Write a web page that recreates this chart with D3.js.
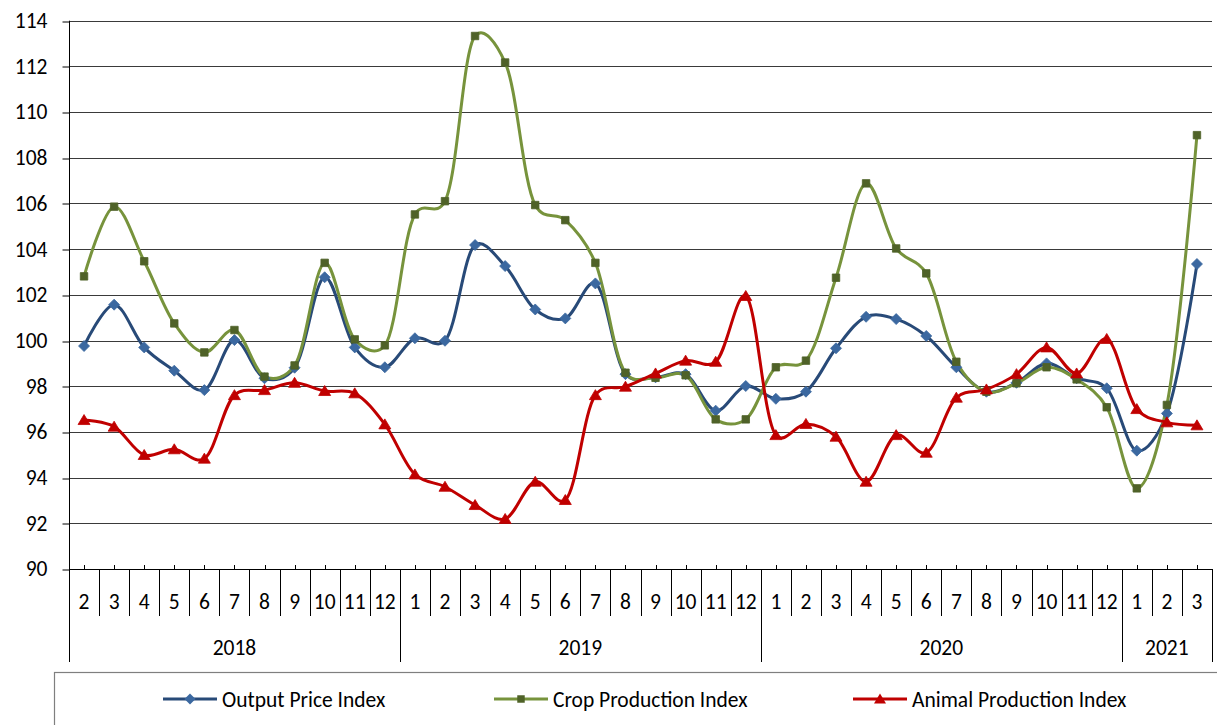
<!DOCTYPE html>
<html>
<head>
<meta charset="utf-8">
<script src="https://cdn.jsdelivr.net/npm/d3@7"></script>
<style>
  body { margin: 0; background: #fff; }
  svg { display: block; font-family: Carlito, Calibri, Lato, "Open Sans", sans-serif; }
</style>
</head>
<body>
<div class="chart"></div>
<script>
// categories: month numbers grouped by year
const yearLabels = ["2018", "2019", "2020", "2021"];
const monthsByYear = [
  [2, 3, 4, 5, 6, 7, 8, 9, 10, 11, 12],
  [1, 2, 3, 4, 5, 6, 7, 8, 9, 10, 11, 12],
  [1, 2, 3, 4, 5, 6, 7, 8, 9, 10, 11, 12],
  [1, 2, 3]
];

// series values
const outputPrice = [
  99.76, 101.57, 99.70, 98.68, 97.83, 100.02, 98.35, 98.81, 102.77, 99.70, 98.83,
  100.10, 99.99, 104.18, 103.26, 101.36, 100.97, 102.50, 98.53, 98.39, 98.53, 96.93, 98.01,
  97.45, 97.76, 99.66, 101.04, 100.94, 100.20, 98.83, 97.76, 98.15, 99.00, 98.35, 97.91,
  95.18, 96.81, 103.35
];
const cropProduction = [
  102.81, 105.86, 103.47, 100.75, 99.48, 100.46, 98.42, 98.91, 103.40, 100.05, 99.79,
  105.52, 106.10, 113.33, 112.17, 105.93, 105.27, 103.40, 98.59, 98.37, 98.48, 96.55, 96.55,
  98.83, 99.12, 102.75, 106.88, 104.03, 102.94, 99.07, 97.76, 98.13, 98.83, 98.30, 97.08,
  93.53, 97.18, 108.99
];
const animalProduction = [
  96.52, 96.23, 94.99, 95.24, 94.83, 97.61, 97.83, 98.15, 97.79, 97.69, 96.33,
  94.14, 93.60, 92.80, 92.19, 93.82, 93.02, 97.61, 97.98, 98.56, 99.12, 99.07, 101.95,
  95.86, 96.35, 95.79, 93.82, 95.86, 95.09, 97.50, 97.86, 98.53, 99.70, 98.56, 100.07,
  97.00, 96.42, 96.29
];
const yTicks = [90, 92, 94, 96, 98, 100, 102, 104, 106, 108, 110, 112, 114];

const series = [
  { name: "Output Price Index", values: outputPrice, line: "#284a78", marker: "#3b68a0", shape: "diamond" },
  { name: "Crop Production Index", values: cropProduction, line: "#77933c", marker: "#4f6228", shape: "square" },
  { name: "Animal Production Index", values: animalProduction, line: "#c00000", marker: "#c00000", shape: "triangle" }
];

const width = 1217;
const height = 725;
const plotLeft = 69, plotRight = 1212, plotTop = 20.7, plotBottom = 569;
const fontSize = 21.5;

// flatten categories
const cats = [];
monthsByYear.forEach((months, yi) => {
  months.forEach((m) => cats.push({ year: yi, month: m }));
});

const svg = d3.select(".chart").append("svg")
  .attr("width", width)
  .attr("height", height);

const x = d3.scaleBand().domain(d3.range(cats.length)).range([plotLeft, plotRight]).padding(0);
const y = d3.scaleLinear().domain([90, 114]).range([plotBottom, plotTop]);
const cx = (i) => x(i) + x.bandwidth() / 2;

// gridlines
svg.append("g")
  .selectAll("line")
  .data(yTicks.slice(1))
  .join("line")
  .attr("x1", plotLeft).attr("x2", plotRight)
  .attr("y1", (d) => Math.round(y(d)) + 0.5).attr("y2", (d) => Math.round(y(d)) + 0.5)
  .attr("stroke", "#3a3a3a").attr("stroke-width", 1);

// y axis
const yAxis = svg.append("g")
  .attr("transform", `translate(${plotLeft + 0.5},0)`)
  .call(d3.axisLeft(y).tickValues(yTicks).tickSize(7).tickPadding(15).tickSizeOuter(0));
yAxis.select(".domain").remove();
yAxis.selectAll(".tick line").attr("stroke", "#000").attr("transform", (d) => `translate(0,${Math.round(y(d)) + 0.5 - y(d)})`);
yAxis.selectAll("text").attr("font-size", fontSize).attr("fill", "#000");
yAxis.attr("font-family", null);

// axis lines
svg.append("line")
  .attr("x1", plotLeft + 0.5).attr("x2", plotLeft + 0.5)
  .attr("y1", plotTop).attr("y2", 662)
  .attr("stroke", "#000");
svg.append("line")
  .attr("x1", plotLeft).attr("x2", plotRight)
  .attr("y1", plotBottom + 0.5).attr("y2", plotBottom + 0.5)
  .attr("stroke", "#000");

// small ticks at category centres
svg.append("g")
  .selectAll("line")
  .data(cats)
  .join("line")
  .attr("x1", (d, i) => Math.round(cx(i)) + 0.5).attr("x2", (d, i) => Math.round(cx(i)) + 0.5)
  .attr("y1", plotBottom - 4).attr("y2", plotBottom)
  .attr("stroke", "#000");

// separators between categories; year boundaries reach further down
const yearStart = [];
let acc = 0;
monthsByYear.forEach((months) => { yearStart.push(acc); acc += months.length; });
const boundaries = d3.range(1, cats.length + 1);
svg.append("g")
  .selectAll("line")
  .data(boundaries)
  .join("line")
  .attr("x1", (b) => Math.round(x(b - 1) + x.bandwidth()) + 0.5)
  .attr("x2", (b) => Math.round(x(b - 1) + x.bandwidth()) + 0.5)
  .attr("y1", plotBottom)
  .attr("y2", (b) => (yearStart.includes(b) || b === cats.length ? 662 : 616))
  .attr("stroke", "#000");

// month labels
svg.append("g")
  .selectAll("text")
  .data(cats)
  .join("text")
  .attr("x", (d, i) => cx(i))
  .attr("y", 609)
  .attr("text-anchor", "middle")
  .attr("font-size", fontSize)
  .text((d) => d.month);

// year labels
svg.append("g")
  .selectAll("text")
  .data(yearLabels)
  .join("text")
  .attr("x", (d, i) => {
    const s = yearStart[i];
    const e = s + monthsByYear[i].length - 1;
    return (x(s) + x(e) + x.bandwidth()) / 2;
  })
  .attr("y", 655)
  .attr("text-anchor", "middle")
  .attr("font-size", fontSize)
  .text((d) => d);

// marker shapes
function markerPath(shape) {
  if (shape === "diamond") return "M0,-5.5L5.5,0L0,5.5L-5.5,0Z";
  if (shape === "square") return d3.symbol(d3.symbolSquare, 56)();
  return "M0,-5.5L6,4.5L-6,4.5Z";
}

const line = d3.line()
  .x((d, i) => cx(i))
  .y((d) => y(d))
  .curve(d3.curveCatmullRom.alpha(0.25));

const plot = svg.append("g");
series.forEach((s) => {
  plot.append("path")
    .datum(s.values)
    .attr("fill", "none")
    .attr("stroke", s.line)
    .attr("stroke-width", 3)
    .attr("stroke-linejoin", "round")
    .attr("d", line);
});
series.forEach((s) => {
  plot.append("g")
    .selectAll("path")
    .data(s.values)
    .join("path")
    .attr("transform", (d, i) => `translate(${cx(i)},${y(d)})`)
    .attr("d", markerPath(s.shape))
    .attr("fill", s.marker)
    .attr("stroke", s.marker)
    .attr("stroke-width", 0.8);
});

// legend
svg.append("rect")
  .attr("x", 54.5).attr("y", 672.5)
  .attr("width", 1300).attr("height", 100)
  .attr("fill", "none")
  .attr("stroke", "#7f7f7f")
  .attr("stroke-width", 1.2);

const legendX = [163, 494, 853];
const legend = svg.append("g")
  .selectAll("g")
  .data(series)
  .join("g")
  .attr("transform", (d, i) => `translate(${legendX[i]},699)`);
legend.append("line")
  .attr("x1", 0).attr("x2", 54)
  .attr("stroke", (d) => d.line)
  .attr("stroke-width", 3);
legend.append("path")
  .attr("transform", "translate(27,0)")
  .attr("d", (d) => markerPath(d.shape))
  .attr("fill", (d) => d.marker);
legend.append("text")
  .attr("x", 59)
  .attr("y", 7.5)
  .attr("font-size", fontSize)
  .text((d) => d.name);
</script>
</body>
</html>
